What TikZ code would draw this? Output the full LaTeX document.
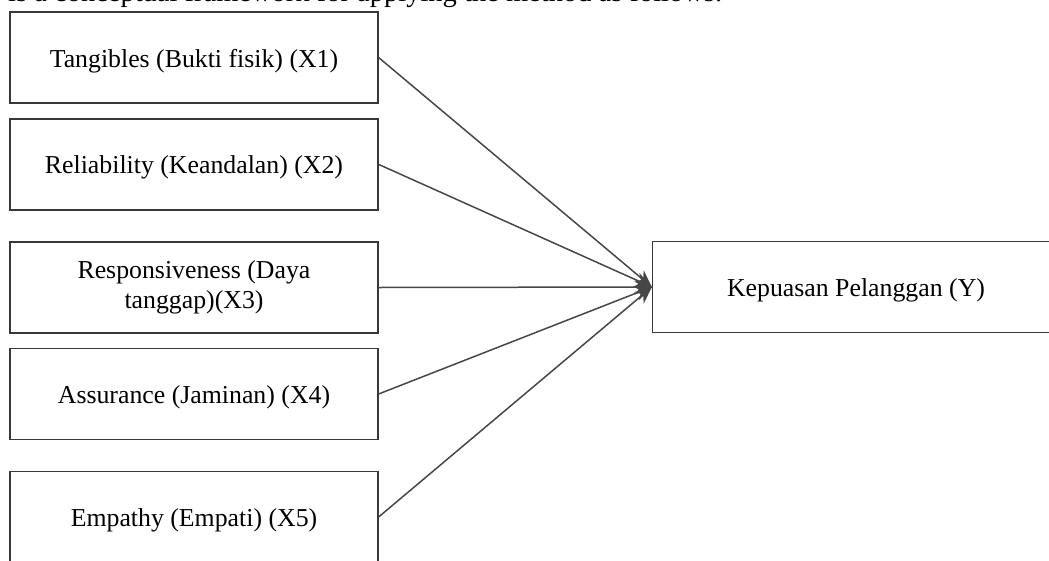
\documentclass[tikz,border=0pt]{standalone}
\usepackage{fontspec}
\setmainfont{Liberation Serif}
\usetikzlibrary{arrows.meta}
\tikzset{
  varbox/.style={draw=black!78, line width=1.2pt, fill=white, minimum width=368pt, minimum height=91pt, inner sep=0pt, align=center, font=\fontsize{25.8}{29.6}\selectfont},
  lowtext/.style={text height=25pt, text depth=6pt},
  ybox/.style={varbox, lowtext, minimum width=407pt},
  link/.style={draw=black!72, line width=1.5pt, -{Stealth[length=17pt,width=15pt]}},
  bodytext/.style={inner sep=0pt, anchor=base west, font=\fontsize{28.5}{33}\selectfont}
}
\begin{document}
\begin{tikzpicture}[x=1pt,y=-1pt]
\useasboundingbox (0,0) rectangle (1049,560);
\node[bodytext] (intro) at (8,1) {is a conceptual framework for applying the method as follows.};
\node[varbox,lowtext] (x1) at (194,57.5) {Tangibles (Bukti fisik) (X1)};
\node[varbox,lowtext] (x2) at (194,164.4) {Reliability (Keandalan) (X2)};
\node[varbox] (x3) at (194,287.5) {Responsiveness (Daya\\tanggap)(X3)};
\node[varbox,lowtext] (x4) at (194,394) {Assurance (Jaminan) (X4)};
\node[varbox,lowtext] (x5) at (194,517) {Empathy (Empati) (X5)};
\node[ybox] (y) at (856,287) {Kepuasan Pelanggan (Y)};
\foreach \n in {x1,x2,x3,x4,x5}
  \draw[link] (\n.east) -- (y.west);
\end{tikzpicture}
\end{document}
